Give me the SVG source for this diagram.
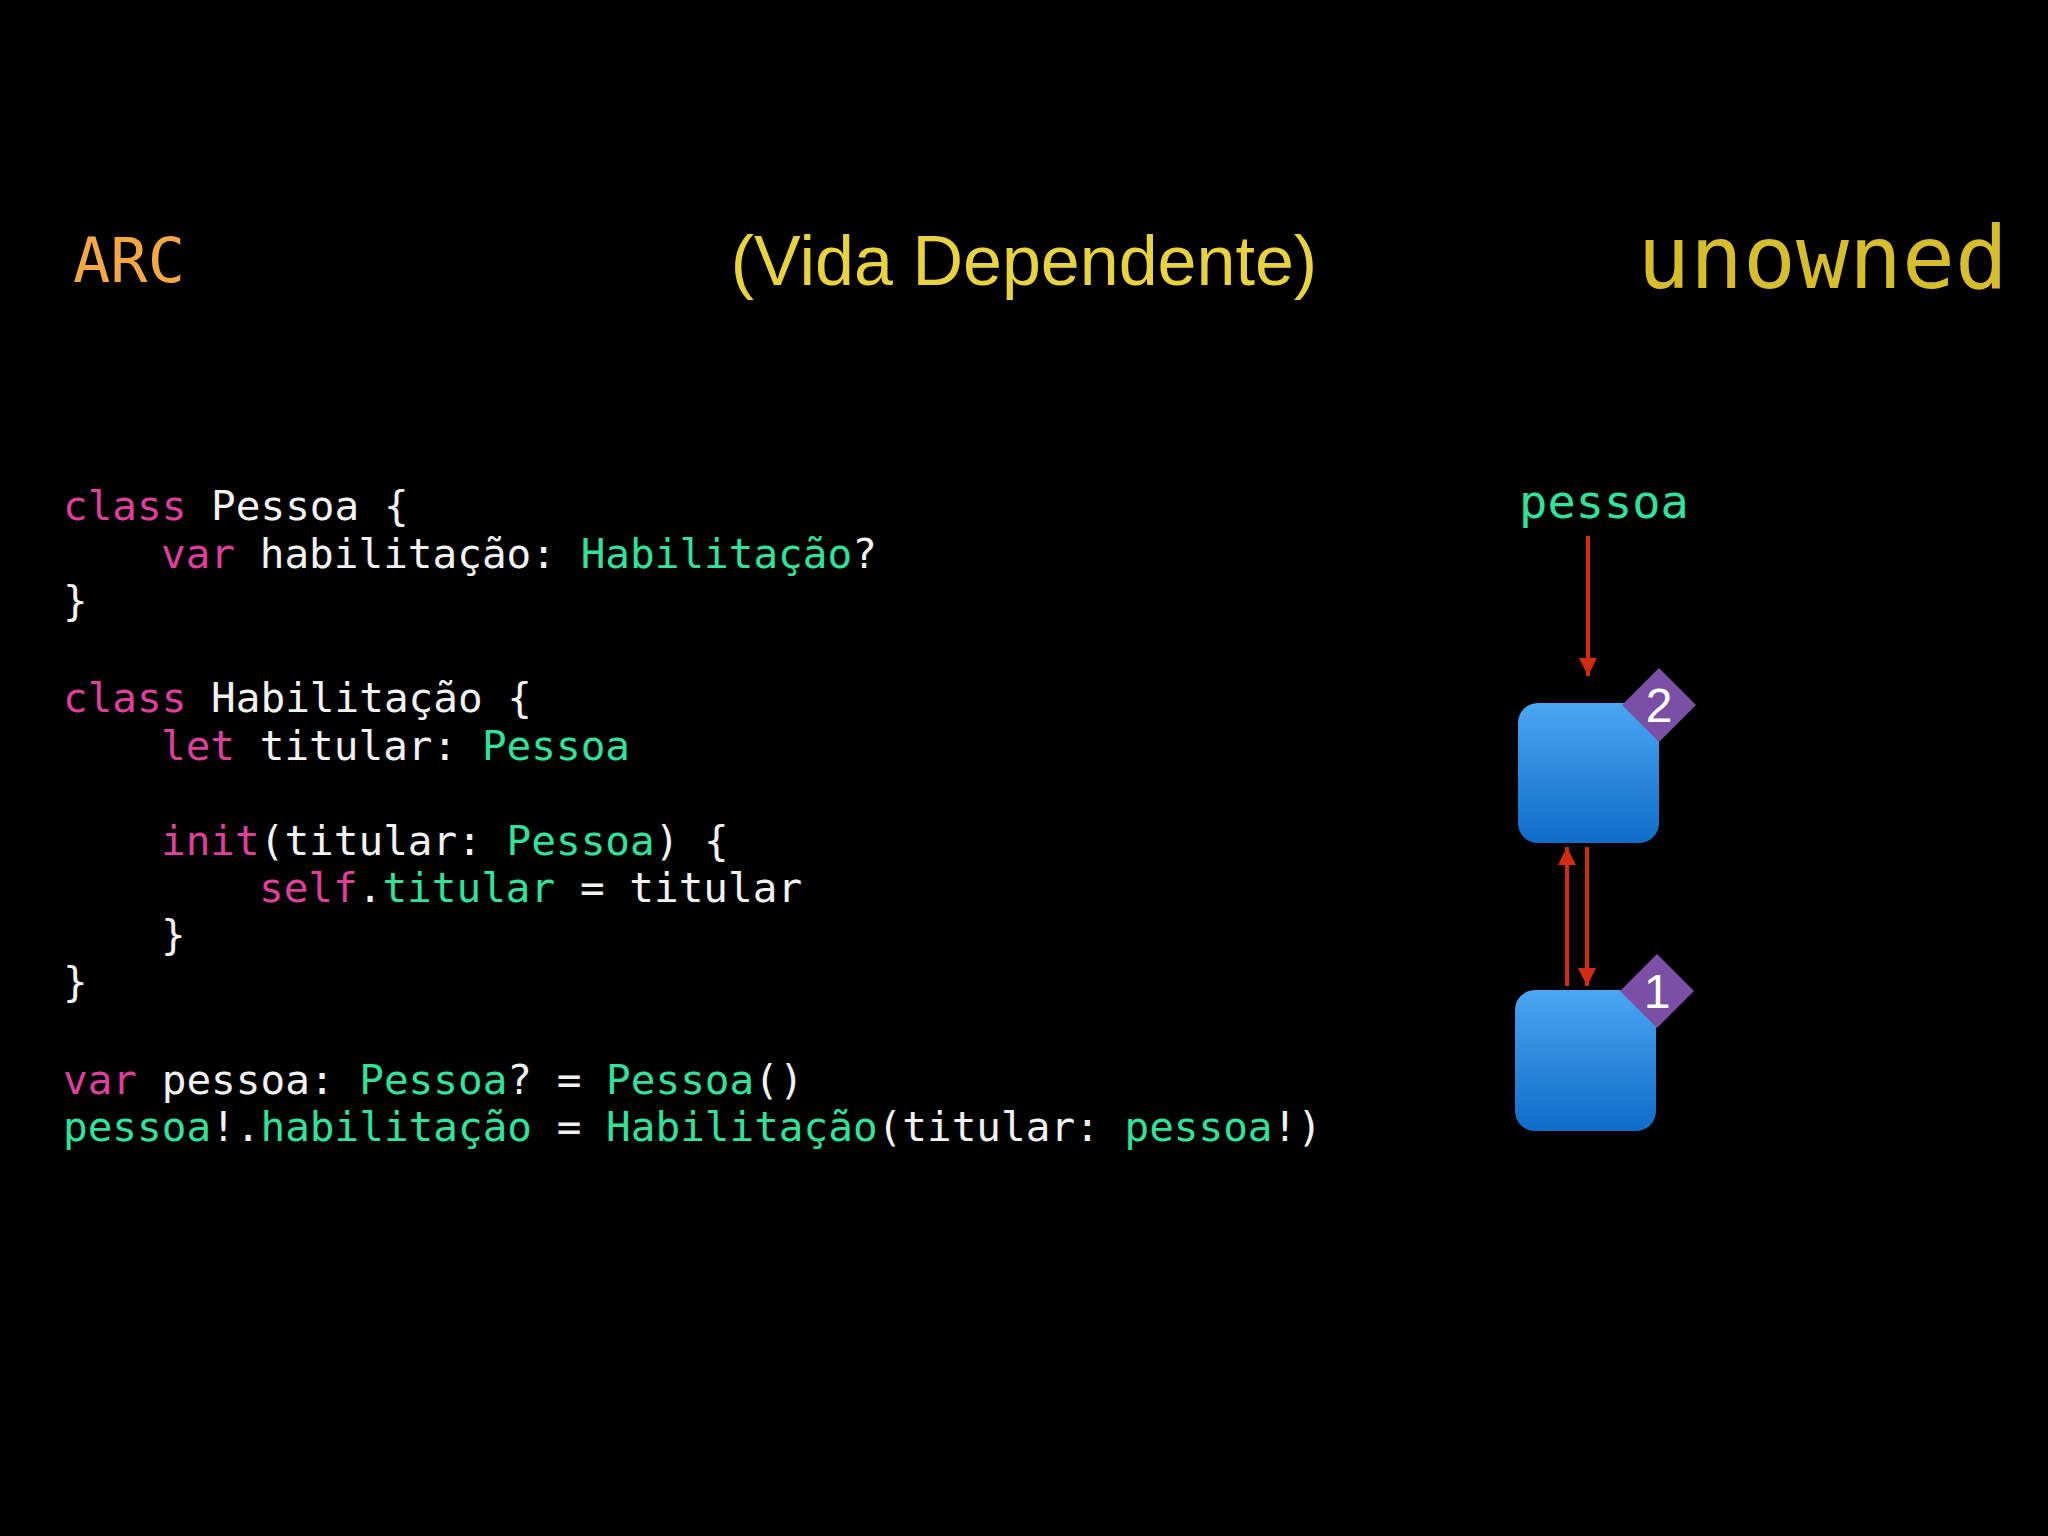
<svg xmlns="http://www.w3.org/2000/svg" width="2048" height="1536" viewBox="0 0 2048 1536">
<defs>
<style>
.c{font-family:"DejaVu Sans Mono","Liberation Mono",monospace;font-size:41px;fill:#f2f2f2;font-weight:500}
.k{fill:#de3f9c}.t{fill:#2fe39a}
.e{stroke:#d42a10;stroke-width:4;fill:none}
.badge{fill:#7b4fa6}
.bt{font-family:"Liberation Sans",Arial,sans-serif;font-size:48px;fill:#fff;text-anchor:middle}
</style>
<linearGradient id="g" x1="0" y1="0" x2="0" y2="1"><stop offset="0" stop-color="#4aa6f2"/><stop offset="1" stop-color="#0f6cc9"/></linearGradient>
<marker id="a" viewBox="0 0 10 10" refX="10" refY="5" markerWidth="4.5" markerHeight="4.5" markerUnits="strokeWidth" orient="auto"><path d="M0,0 L10,5 L0,10 z" fill="#d42a10"/></marker>
</defs>
<rect width="2048" height="1536" fill="#000"/>
<text x="73" y="282" font-family="DejaVu Sans Mono,monospace" font-size="62" fill="#f5a742">ARC</text>
<text x="1024" y="285" font-family="Helvetica,'Liberation Sans',Arial,sans-serif" font-size="70" fill="#e8d33f" text-anchor="middle">(Vida Dependente)</text>
<text x="2008" y="288" font-family="DejaVu Sans Mono,monospace" font-size="88" fill="#d6bd2b" text-anchor="end">unowned</text>
<g id="code" class="c">
<text x="63" y="520"><tspan class="k">class</tspan> Pessoa {</text>
<text x="161" y="568"><tspan class="k">var</tspan> habilitação: <tspan class="t">Habilitação</tspan>?</text>
<text x="63" y="615">}</text>
<text x="63" y="712"><tspan class="k">class</tspan> Habilitação {</text>
<text x="161" y="760"><tspan class="k">let</tspan> titular: <tspan class="t">Pessoa</tspan></text>
<text x="161" y="855"><tspan class="k">init</tspan>(titular: <tspan class="t">Pessoa</tspan>) {</text>
<text x="259" y="902"><tspan class="k">self</tspan>.<tspan class="t">titular</tspan> = titular</text>
<text x="161" y="949">}</text>
<text x="63" y="996">}</text>
<text x="63" y="1094"><tspan class="k">var</tspan> pessoa: <tspan class="t">Pessoa</tspan>? = <tspan class="t">Pessoa</tspan>()</text>
<text x="63" y="1141"><tspan class="t">pessoa</tspan>!.<tspan class="t">habilitação</tspan> = <tspan class="t">Habilitação</tspan>(titular: <tspan class="t">pessoa</tspan>!)</text>
</g>
<g id="label-pessoa"><text x="1604" y="518" font-family="DejaVu Sans Mono,monospace" font-size="47" fill="#2fe39a" text-anchor="middle">pessoa</text></g>
<g id="node2"><rect x="1518" y="703" width="141" height="140" rx="20" fill="url(#g)"/><polygon class="badge" points="1659,668 1696,705 1659,742 1622,705"/><text class="bt" x="1659" y="722">2</text></g>
<g id="node1"><rect x="1515" y="990" width="141" height="141" rx="20" fill="url(#g)"/><polygon class="badge" points="1657,954 1694,991 1657,1028 1620,991"/><text class="bt" x="1657" y="1008">1</text></g>
<g id="connectors">
<line class="e" x1="1588" y1="536" x2="1588" y2="676" marker-end="url(#a)"/>
<line class="e" x1="1567" y1="986" x2="1567" y2="847" marker-end="url(#a)"/>
<line class="e" x1="1587" y1="847" x2="1587" y2="986" marker-end="url(#a)"/>
</g>
</svg>
